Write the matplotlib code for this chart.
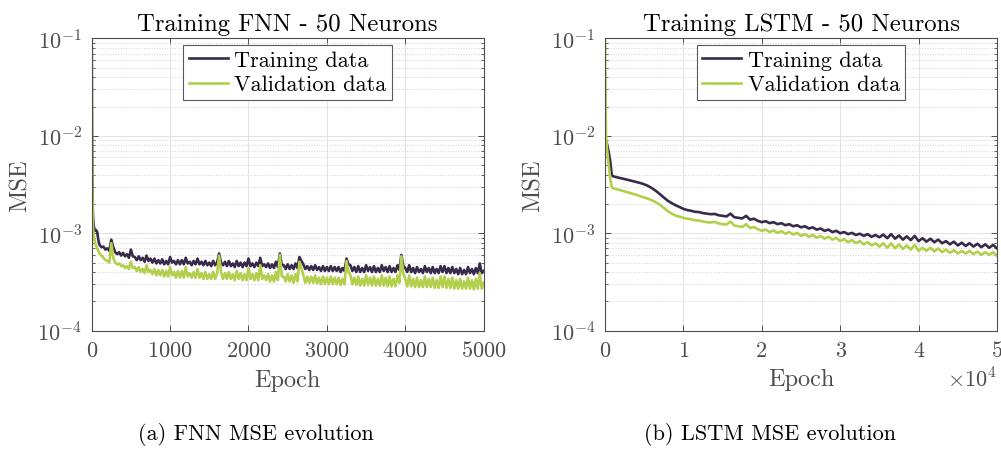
import numpy as np
import matplotlib
matplotlib.use("Agg")
import matplotlib.pyplot as plt
from matplotlib.ticker import FixedLocator, FuncFormatter, LogLocator

plt.rcParams['font.family'] = ['cmr10', 'DejaVu Serif']
plt.rcParams['mathtext.fontset'] = 'cm'
plt.rcParams['axes.formatter.use_mathtext'] = True

# ---- data (MSE values in units of 1e-4) ----
fnn_epoch = np.concatenate([[0, 3, 8, 15, 25, 40, 55, 70, 85], np.arange(100, 5001, 25)])
fnn_train = np.array([
    1000, 200, 40, 16, 12, 10.6, 10.8, 10.3, 8.5,
    7.6, 7.2, 7.3, 6.8, 7.0, 6.6, 8.6, 7.2, 6.4, 6.1,
    6.4, 5.9, 6.3, 5.8, 6.1, 5.6, 6.8, 5.8, 5.7, 5.3,
    5.8, 5.3, 5.6, 5.1, 5.9, 5.2, 5.5, 5.0, 5.5, 4.9,
    5.3, 4.9, 5.4, 4.8, 5.2, 4.8, 5.7, 5.0, 5.2, 4.8,
    5.3, 4.8, 5.3, 4.8, 5.6, 4.9, 5.1, 4.7, 5.2, 4.8,
    5.5, 4.8, 5.1, 4.7, 5.2, 4.7, 5.0, 4.6, 5.2, 4.7,
    5.0, 6.2, 5.0, 4.7, 5.1, 4.6, 5.2, 4.6, 4.9, 4.5,
    5.2, 4.6, 5.0, 4.5, 5.0, 4.6, 5.5, 4.6, 4.9, 4.5,
    5.0, 4.6, 5.6, 4.6, 4.8, 4.5, 4.9, 4.4, 4.8, 4.4,
    5.1, 4.5, 6.2, 4.7, 4.7, 4.3, 4.8, 4.3, 4.7, 4.3,
    4.9, 4.4, 5.7, 5.2, 4.8, 4.3, 4.6, 4.2, 4.6, 4.2,
    4.7, 4.2, 4.5, 4.1, 4.6, 4.1, 4.5, 4.1, 4.6, 4.1,
    4.5, 4.1, 4.5, 4.0, 4.4, 4.1, 5.5, 4.8, 4.7, 4.1,
    4.5, 4.0, 4.6, 4.0, 4.4, 4.0, 4.7, 4.1, 4.5, 4.0,
    4.6, 4.0, 4.4, 4.0, 4.7, 4.1, 4.5, 4.0, 4.6, 4.0,
    4.4, 4.0, 4.7, 4.2, 6.0, 4.6, 4.4, 4.0, 4.7, 4.0,
    4.4, 3.9, 4.5, 4.0, 4.3, 3.9, 4.6, 4.0, 4.4, 3.9,
    4.5, 3.9, 4.3, 3.9, 4.6, 4.0, 4.6, 3.9, 4.4, 3.9,
    4.5, 3.9, 4.3, 3.8, 4.4, 3.8, 4.2, 3.8, 4.5, 3.9,
    4.3, 3.8, 4.4, 3.9, 4.9, 3.9, 4.1]) * 1e-4
fnn_val = np.array([
    1000, 150, 30, 12, 9.5, 8.3, 7.5, 7.0, 6.6,
    6.2, 5.9, 5.6, 5.3, 5.2, 5.0, 7.9, 5.6, 5.0, 4.8,
    4.9, 4.6, 4.7, 4.4, 4.6, 4.3, 5.1, 4.4, 4.5, 4.1,
    4.5, 4.0, 4.3, 3.9, 4.7, 4.0, 4.2, 3.8, 4.3, 3.7,
    4.2, 3.7, 4.2, 3.6, 4.1, 3.6, 4.5, 3.7, 4.0, 3.5,
    4.1, 3.5, 4.1, 3.5, 4.5, 3.6, 3.9, 3.5, 4.0, 3.5,
    4.3, 3.5, 3.9, 3.4, 4.0, 3.4, 3.8, 3.4, 4.0, 3.4,
    3.9, 5.9, 4.0, 3.4, 3.9, 3.4, 4.0, 3.4, 3.8, 3.3,
    4.1, 3.4, 3.9, 3.3, 3.8, 3.3, 4.4, 3.4, 3.8, 3.3,
    3.9, 3.3, 4.7, 3.4, 3.7, 3.3, 3.8, 3.2, 3.7, 3.2,
    4.0, 3.3, 6.0, 3.6, 3.6, 3.2, 3.8, 3.2, 3.7, 3.1,
    3.8, 3.2, 5.1, 4.4, 3.7, 3.1, 3.6, 3.1, 3.6, 3.1,
    3.7, 3.05, 3.5, 3.0, 3.6, 3.0, 3.5, 3.0, 3.6, 3.0,
    3.5, 3.0, 3.5, 2.95, 3.4, 3.0, 5.2, 4.0, 3.7, 3.0,
    3.5, 2.95, 3.6, 2.9, 3.4, 2.9, 3.7, 2.95, 3.5, 2.9,
    3.6, 2.9, 3.4, 2.9, 3.7, 2.9, 3.5, 2.85, 3.6, 2.85,
    3.4, 2.85, 3.7, 3.1, 5.8, 3.8, 3.4, 2.85, 3.7, 2.85,
    3.4, 2.8, 3.5, 2.8, 3.3, 2.8, 3.6, 2.8, 3.4, 2.8,
    3.5, 2.75, 3.3, 2.75, 3.6, 2.8, 3.6, 2.75, 3.4, 2.75,
    3.5, 2.7, 3.3, 2.7, 3.4, 2.7, 3.2, 2.7, 3.5, 2.7,
    3.3, 2.65, 3.4, 2.7, 3.9, 2.7, 3.1]) * 1e-4

lstm_epoch = np.concatenate([[0, 130, 250, 450, 680, 850], np.arange(1000, 50001, 500)])
lstm_train = np.array([
    95, 88, 83, 70, 54, 40,
    38.5, 37.6, 36.8, 36.0, 35.2, 34.4, 33.6, 32.8, 31.8, 30.6,
    29.0, 27.2, 25.2, 23.3, 21.6, 20.4, 19.4, 18.6, 17.8, 17.3,
    17.0, 16.6, 16.5, 16.1, 15.9, 15.7, 15.8, 15.3, 15.1, 14.9,
    15.9, 14.6, 14.4, 14.2, 15.1, 13.8, 14.1, 13.4, 13.0, 13.3,
    12.7, 13.0, 12.4, 12.7, 12.1, 12.4, 11.8, 12.1, 11.5, 11.8,
    11.2, 11.5, 10.9, 11.2, 10.6, 10.9, 10.3, 10.6, 10.0, 10.3,
    9.8, 10.1, 9.6, 9.9, 9.4, 9.8, 9.2, 9.6, 9.1, 9.7,
    8.9, 9.8, 8.8, 9.5, 8.6, 9.3, 8.5, 9.4, 8.3, 8.9,
    8.2, 8.8, 8.1, 8.6, 7.9, 8.3, 7.7, 8.2, 7.5, 8.0,
    7.4, 7.9, 7.3, 7.8, 7.2, 7.7, 7.1, 7.6, 7.0]) * 1e-4
lstm_val = np.array([
    1000, 100, 75, 52, 36, 30,
    29.0, 28.3, 27.6, 26.9, 26.2, 25.5, 24.8, 24.0, 23.3, 22.6,
    21.8, 20.8, 19.6, 18.2, 16.9, 15.9, 15.2, 14.8, 14.4, 14.1,
    13.9, 13.6, 13.5, 13.2, 13.0, 12.9, 13.1, 12.6, 12.4, 12.3,
    13.2, 12.0, 11.8, 11.6, 12.4, 11.3, 11.6, 11.0, 10.6, 10.9,
    10.3, 10.7, 10.1, 10.5, 9.9, 10.3, 9.7, 10.1, 9.4, 9.8,
    9.2, 9.6, 9.0, 9.4, 8.8, 9.2, 8.6, 9.0, 8.3, 8.7,
    8.1, 8.5, 7.9, 8.3, 7.7, 8.1, 7.5, 7.9, 7.3, 7.9,
    7.1, 7.9, 7.0, 7.7, 6.9, 7.5, 6.8, 7.6, 6.6, 7.1,
    6.6, 7.1, 6.5, 7.0, 6.4, 6.8, 6.3, 6.7, 6.2, 6.6,
    6.2, 6.6, 6.1, 6.5, 6.0, 6.4, 6.0, 6.4, 5.9]) * 1e-4

titles = ['Training FNN - 50 Neurons', 'Training LSTM - 50 Neurons']
captions = ['(a) FNN MSE evolution', '(b) LSTM MSE evolution']
labels = ['Training data', 'Validation data']
c_train = '#382a4a'
c_val = '#b3cf4c'
gray = '#4d4d4d'

fig = plt.figure(figsize=(10.01, 4.52), dpi=100)
ax1 = fig.add_axes([0.0916, 0.2662, 0.3916, 0.6465])
ax2 = fig.add_axes([0.6044, 0.2662, 0.3916, 0.6465])

ax1.plot(fnn_epoch, fnn_train, color=c_train, lw=1.9, label=labels[0])
ax1.plot(fnn_epoch, fnn_val, color=c_val, lw=1.9, label=labels[1])
ax2.plot(lstm_epoch, lstm_train, color=c_train, lw=1.9, label=labels[0])
ax2.plot(lstm_epoch, lstm_val, color=c_val, lw=1.9, label=labels[1])

ax1.set_xlim(0, 5000)
ax1.xaxis.set_major_locator(FixedLocator(np.arange(0, 5001, 1000)))
ax2.set_xlim(0, 50000)
ax2.xaxis.set_major_locator(FixedLocator(np.arange(0, 50001, 10000)))
ax2.xaxis.set_major_formatter(FuncFormatter(lambda v, p: '%d' % round(v / 1e4)))
ax2.text(1.0, -0.165, r'$\times10^{4}$', transform=ax2.transAxes, ha='right',
         va='center', fontsize=16, color=gray)

for ax, t, cap, cx in zip([ax1, ax2], titles, captions, [0.256, 0.769]):
    ax.set_yscale('log')
    ax.set_ylim(1e-4, 1e-1)
    ax.yaxis.set_major_locator(LogLocator(base=10, numticks=10))
    ax.yaxis.set_minor_locator(LogLocator(base=10, subs=np.arange(2, 10), numticks=20))
    ax.grid(which='major', color='#e2e2e2', lw=0.7)
    ax.grid(which='minor', axis='y', color='#d2d2d2', lw=0.7, ls=':')
    ax.set_axisbelow(True)
    ax.tick_params(which='both', direction='in', top=True, right=True,
                   colors=gray, labelsize=16)
    ax.tick_params(which='major', length=4.5, width=0.7, pad=7)
    ax.tick_params(which='minor', length=2.5, width=0.6)
    for s in ax.spines.values():
        s.set_color(gray)
        s.set_linewidth(0.8)
    ax.set_title(t, fontsize=17.8, pad=6)
    ax.set_ylabel('MSE', fontsize=17.5, color=gray, labelpad=4)
    ax.set_xlabel('Epoch', fontsize=17.5, color=gray, labelpad=6)
    leg = ax.legend(loc='upper center', bbox_to_anchor=(0.5, 0.978), fontsize=16,
                    fancybox=False, framealpha=1, edgecolor='#5a5a5a',
                    handlelength=1.75, handletextpad=0.3, borderpad=0.25,
                    labelspacing=0.22, borderaxespad=0)
    leg.get_frame().set_linewidth(0.8)
    fig.text(cx, 1 - 435 / 452, cap, ha='center', va='center', fontsize=16)

fig.savefig('out.png', dpi=100)
